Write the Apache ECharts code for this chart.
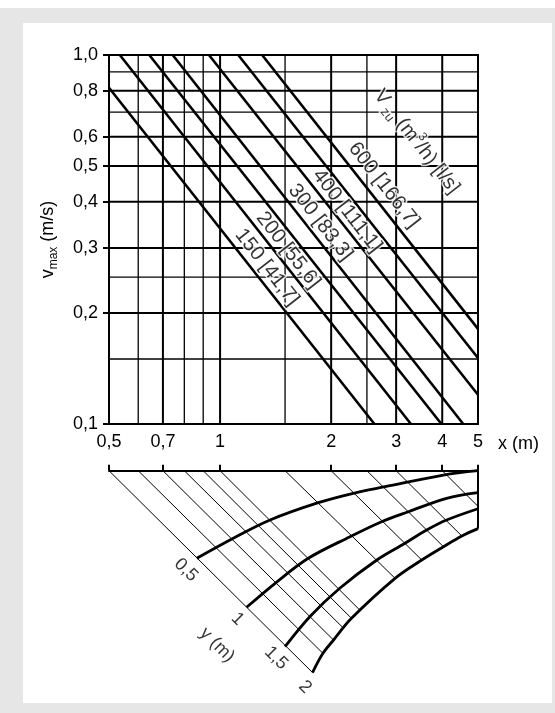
<!DOCTYPE html>
<html><head><meta charset="utf-8">
<script src="https://cdn.jsdelivr.net/npm/echarts@6/dist/echarts.min.js"></script>
<style>
html,body{margin:0;padding:0;background:#fff;width:555px;height:713px;overflow:hidden}
#bg{position:absolute;left:0;top:8px;width:555px;height:705px;background:#e6e6e6}
#panel{position:absolute;left:23px;top:23px;width:529px;height:680px;background:#fff}
#chart{position:absolute;left:0;top:0;width:555px;height:713px}
</style></head><body>
<div id="bg"></div><div id="panel"></div><div id="chart"></div>
<script>
// ---------- upper chart: v_max over x (log-log) ----------
const xMajor = [0.5, 0.7, 1, 2, 3, 4, 5];
const xMinor = [0.6, 0.8, 0.9, 1.5, 2.5];
const vMajor = [0.1, 0.2, 0.3, 0.4, 0.5, 0.6, 0.8, 1.0];
const vMinor = [0.15, 0.25, 0.7, 0.9];
const xTickLabels = ['0,5', '0,7', '1', '2', '3', '4', '5'];
const vTickLabels = ['0,1', '0,2', '0,3', '0,4', '0,5', '0,6', '0,8', '1,0'];

// supply air flow lines V_zu (m3/h): start / end points [x (m), v_max (m/s)]
const flowNames = ['150', '200', '250', '300', '400', '500', '600'];
const flowStart = [[0.5, 0.815], [0.535, 1.0], [0.643, 1.0], [0.744, 1.0], [0.933, 1.0], [1.12, 1.0], [1.30, 1.0]];
const flowEnd = [[2.62, 0.1], [3.29, 0.1], [3.98, 0.1], [4.56, 0.1], [5, 0.120], [5, 0.151], [5, 0.181]];
const flowLabels = ['150 [41,7]', '200 [55,6]', '300 [83,3]', '400 [111,1]', '600 [166,7]'];
const flowLabelPos = [[1.34, 0.266], [1.53, 0.296], [1.87, 0.352], [2.21, 0.378], [2.78, 0.444]];
const flowTitlePos = [3.41, 0.582];

// ---------- lower chart: y (m) correction fan; depth in decades below the x axis ----------
const yValueLabels = ['0,5', '1', '1,5', '2'];
const curveY05 = [[0.865, 0.2374], [1.086, 0.1832], [1.366, 0.1336], [1.846, 0.0867], [2.296, 0.0612], [2.80, 0.0434], [4.03, 0.0117], [5, 0]];
const curveY10 = [[1.18, 0.3702], [1.41, 0.3051], [1.734, 0.2374], [2.25, 0.1789], [2.74, 0.1382], [3.24, 0.1111], [4.11, 0.0748], [5, 0.0596]];
const curveY15 = [[1.50, 0.477], [1.75, 0.3957], [2.11, 0.3187], [2.66, 0.242], [3.17, 0.1967], [3.63, 0.1607], [4.11, 0.1336], [5, 0.103]];
const curveY20 = [[1.78, 0.5474], [1.90, 0.4949], [2.03, 0.4588], [2.27, 0.40], [2.98, 0.2916], [3.52, 0.242], [4.03, 0.206], [4.52, 0.177], [5, 0.157]];
const guideStart = [0.5, 0.6, 0.7, 0.8, 0.9, 1, 1.5, 2, 2.5, 3, 4];
const guideEnd = [[1.78, 0.547], [1.90, 0.495], [2.03, 0.459], [2.14, 0.4228], [2.27, 0.40], [2.39, 0.3775], [2.98, 0.2916], [3.52, 0.242], [4.03, 0.206], [4.52, 0.177], [5, 0.0967]];
const edgeLine = [[5, 0], [5, 0.157]];
const yLabelPos = [[0.808, 0.269], [1.115, 0.402], [1.418, 0.5076], [1.70, 0.586]];
const yTitlePos = [0.981, 0.4724];

// ---------- build ----------
const L = Math.log10;
const BLACK = '#000';
const FONT = '"Liberation Sans", Arial, Helvetica, sans-serif';

function seg(gi, pts, w, z, smooth, cap) {
  return {
    type: 'line', xAxisIndex: gi, yAxisIndex: gi, data: pts,
    showSymbol: false, symbol: 'none', silent: true, animation: false,
    z: z, smooth: smooth || false, clip: false,
    lineStyle: { color: BLACK, width: w, cap: cap || 'butt' }
  };
}
function fmt(list, labels) {
  return function (v) {
    for (let i = 0; i < list.length; i++) if (Math.abs(L(list[i]) - v) < 1e-6) return labels[i];
    return '';
  };
}

const series = [];
xMajor.forEach(x => series.push(seg(0, [[L(x), L(0.1)], [L(x), L(1)]], 2, 1, false, 'square')));
xMinor.forEach(x => series.push(seg(0, [[L(x), L(0.1)], [L(x), L(1)]], 1.3, 1)));
vMajor.forEach(v => series.push(seg(0, [[L(0.5), L(v)], [L(5), L(v)]], 2, 1, false, 'square')));
vMinor.forEach(v => series.push(seg(0, [[L(0.5), L(v)], [L(5), L(v)]], 1.3, 1)));
flowStart.forEach((s, i) => series.push(seg(0, [[L(s[0]), L(s[1])], [L(flowEnd[i][0]), L(flowEnd[i][1])]], 2.6, 2)));

const halo = { textBorderColor: '#fff', textBorderWidth: 3 };
series.push({
  type: 'scatter', xAxisIndex: 0, yAxisIndex: 0, symbolSize: 0, silent: true, animation: false, z: 5,
  data: flowLabels.map((t, i) => ({ name: t, value: [L(flowLabelPos[i][0]), L(flowLabelPos[i][1])] })),
  label: Object.assign({
    show: true, position: 'inside', formatter: '{b}', rotate: -52,
    color: BLACK, fontFamily: FONT, fontSize: 20.5, align: 'center', verticalAlign: 'middle'
  }, halo)
});
const tStyle = (fs, va, lh) => Object.assign({ fontSize: fs, fontFamily: FONT, color: BLACK, verticalAlign: va }, lh ? { lineHeight: lh } : {}, halo);
series.push({
  type: 'scatter', xAxisIndex: 0, yAxisIndex: 0, symbolSize: 0, silent: true, animation: false, z: 5,
  data: [{ name: 'Vzu', value: [L(flowTitlePos[0]), L(flowTitlePos[1])] }],
  label: Object.assign({
    show: true, position: 'inside', rotate: -52, align: 'center', verticalAlign: 'middle',
    formatter: () => '{mn|V}{sb| zu}{mn| (m}{sp|3}{mn|/h) [l/s]}',
    rich: { mn: tStyle(20, 'middle', 27), sb: tStyle(13, 'bottom'), sp: tStyle(12, 'top') }
  }, halo)
});

// lower fan
guideStart.forEach((g, i) => series.push(seg(1, [[L(g), 0], [L(guideEnd[i][0]), guideEnd[i][1]]], 1, 1)));
[curveY05, curveY10, curveY15, curveY20].forEach(c => series.push(seg(1, c.map(p => [L(p[0]), p[1]]), 2.8, 2, 0.35)));
series.push(seg(1, edgeLine.map(p => [L(p[0]), p[1]]), 2, 2));
series.push({
  type: 'scatter', xAxisIndex: 1, yAxisIndex: 1, symbolSize: 0, silent: true, animation: false, z: 5,
  data: yValueLabels.map((t, i) => ({ name: t, value: [L(yLabelPos[i][0]), yLabelPos[i][1]] }))
    .concat([{ name: 'y (m)', value: [L(yTitlePos[0]), yTitlePos[1]] }]),
  label: {
    show: true, position: 'inside', formatter: '{b}', rotate: -45,
    color: BLACK, fontFamily: FONT, fontSize: 18, align: 'center', verticalAlign: 'middle'
  }
});

const axLabel = { color: BLACK, fontFamily: FONT, fontSize: 18 };
const option = {
  animation: false,
  grid: [
    { left: 109, top: 55, width: 369, height: 369 },
    { left: 109, top: 470.7, width: 369, height: 221.4 }
  ],
  xAxis: [
    {
      gridIndex: 0, type: 'value', min: L(0.5), max: L(5), position: 'bottom',
      axisLine: { show: false, onZero: false }, axisTick: { show: false }, splitLine: { show: false },
      axisLabel: Object.assign({ customValues: xMajor.map(L), formatter: fmt(xMajor, xTickLabels), margin: 9 }, axLabel),
      name: 'x (m)', nameLocation: 'end', nameGap: 20,
      nameTextStyle: Object.assign({ verticalAlign: 'top', lineHeight: 40 }, axLabel)
    },
    {
      gridIndex: 1, type: 'value', min: L(0.5), max: L(5), position: 'top',
      axisLine: { show: true, onZero: false, lineStyle: { color: BLACK, width: 2 } },
      axisTick: { show: true, customValues: xMajor.map(L), length: 6, lineStyle: { color: BLACK, width: 2 } },
      axisLabel: { show: false }, splitLine: { show: false }
    }
  ],
  yAxis: [
    {
      gridIndex: 0, type: 'value', min: L(0.1), max: L(1),
      axisLine: { show: false, onZero: false }, splitLine: { show: false },
      axisTick: { show: true, customValues: vMajor.map(L), length: 6, lineStyle: { color: BLACK, width: 2 } },
      axisLabel: Object.assign({ customValues: vMajor.map(L), formatter: fmt(vMajor, vTickLabels), margin: 11 }, axLabel),
      name: '{mn|v}{sb|max}{mn| (m/s)}', nameLocation: 'middle', nameGap: 49, nameRotate: 90,
      nameTextStyle: {
        color: BLACK, fontFamily: FONT, fontSize: 18,
        rich: {
          mn: { fontSize: 18, fontFamily: FONT, color: BLACK, lineHeight: 24, verticalAlign: 'middle' },
          sb: { fontSize: 12, fontFamily: FONT, color: BLACK, verticalAlign: 'bottom' }
        }
      }
    },
    { gridIndex: 1, type: 'value', min: 0, max: 0.6, inverse: true, show: false }
  ],
  series: series
};
const chart = echarts.init(document.getElementById('chart'), null, { renderer: 'canvas' });
chart.setOption(option);
</script>
</body></html>
